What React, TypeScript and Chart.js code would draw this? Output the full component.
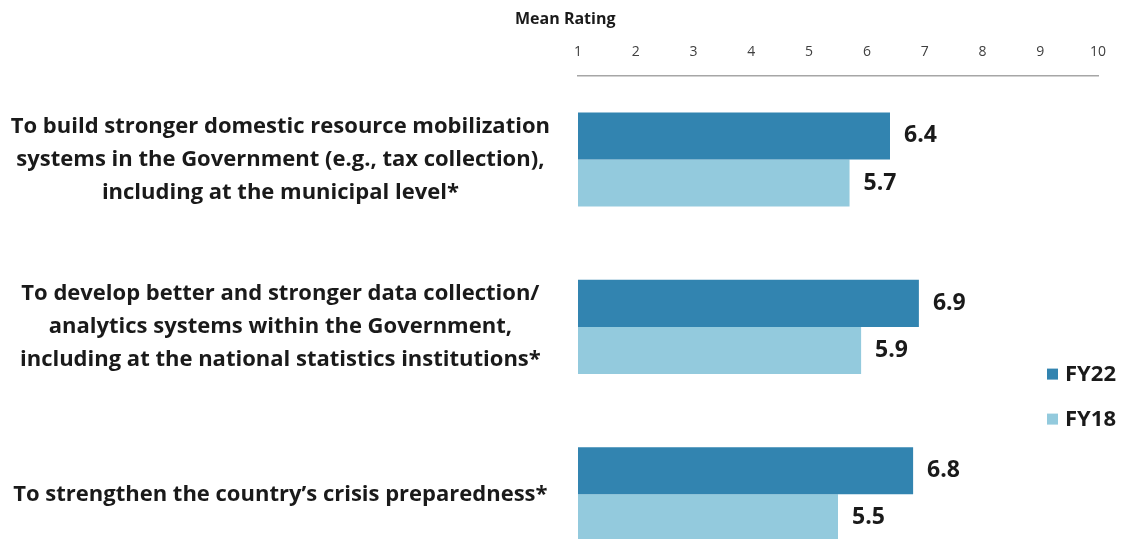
import React, { useEffect, useRef } from "react";
import { Chart, registerables } from "chart.js";

Chart.register(...registerables);

const categories: string[][] = [
  [
    "To build stronger domestic resource mobilization",
    "systems in the Government (e.g., tax collection),",
    "including at the municipal level*",
  ],
  [
    "To develop better and stronger data collection/",
    "analytics systems within the Government,",
    "including at the national statistics institutions*",
  ],
  ["To strengthen the country\u2019s crisis preparedness*"],
];
const seriesLabels = ["FY22", "FY18"];
const fy22Values = [6.4, 6.9, 6.8];
const fy18Values = [5.7, 5.9, 5.5];
const axisMin = 1;
const axisMax = 10;
const axisTitle = "Mean Rating";

const COLOR_FY22 = "#3284B0";
const COLOR_FY18 = "#93CADD";
const FONT = "'Open Sans', Lato, sans-serif";
const TEXT = "#1a1a1a";

const extrasPlugin = {
  id: "extras",
  afterDatasetsDraw(chart: any) {
    const ctx = chart.ctx;
    const area = chart.chartArea;
    ctx.save();
    // data labels
    ctx.font = `bold 23px ${FONT}`;
    ctx.fillStyle = TEXT;
    ctx.textAlign = "left";
    ctx.textBaseline = "middle";
    chart.data.datasets.forEach((ds: any, di: number) => {
      const meta = chart.getDatasetMeta(di);
      meta.data.forEach((el: any, i: number) => {
        ctx.fillText(Number(ds.data[i]).toFixed(1), el.x + 14, el.y);
      });
    });
    // axis title
    ctx.font = `bold 16px ${FONT}`;
    ctx.fillStyle = TEXT;
    ctx.textAlign = "left";
    ctx.textBaseline = "middle";
    ctx.fillText(axisTitle, area.left - 63, 19);
    // legend
    const yScale = chart.scales.y;
    const mid = (yScale.getPixelForValue(1) + yScale.getPixelForValue(2)) / 2;
    const lx = area.right - 51;
    chart.data.datasets.forEach((ds: any, di: number) => {
      const cy = mid - 37 + di * 45;
      ctx.fillStyle = ds.backgroundColor;
      ctx.fillRect(lx, cy - 5, 11, 11);
      ctx.fillStyle = TEXT;
      ctx.font = `bold 22px ${FONT}`;
      ctx.fillText(ds.label, lx + 18, cy + 1);
    });
    ctx.restore();
  },
};

export default function App() {
  const ref = useRef<HTMLCanvasElement | null>(null);
  useEffect(() => {
    if (!ref.current) return;
    const chart = new Chart(ref.current, {
      type: "bar",
      data: {
        labels: categories,
        datasets: [
          {
            label: seriesLabels[0],
            data: fy22Values,
            backgroundColor: COLOR_FY22,
            base: axisMin,
            categoryPercentage: 0.563,
            barPercentage: 1.0,
          } as any,
          {
            label: seriesLabels[1],
            data: fy18Values,
            backgroundColor: COLOR_FY18,
            base: axisMin,
            categoryPercentage: 0.563,
            barPercentage: 1.0,
          } as any,
        ],
      },
      options: {
        indexAxis: "y",
        responsive: false,
        animation: false,
        layout: { padding: { top: 29, right: 27, left: 0, bottom: 0 } },
        plugins: {
          legend: { display: false },
          tooltip: { enabled: false },
          title: { display: false },
        },
        scales: {
          x: {
            position: "top",
            min: axisMin,
            max: axisMax,
            grid: { display: false, drawTicks: false },
            border: { display: true, color: "#A6A6A6", width: 1.5 },
            ticks: {
              stepSize: 1,
              padding: 15,
              color: "#404040",
              font: { family: FONT, size: 14 },
              maxRotation: 0,
            },
            afterFit: (scale: any) => {
              scale.paddingLeft = 0;
              scale.paddingRight = 0;
            },
          },
          y: {
            grid: { display: false, drawTicks: false },
            border: { display: false },
            ticks: {
              padding: 28,
              crossAlign: "center",
              color: TEXT,
              font: { family: FONT, size: 22, weight: "bold", lineHeight: 1.5 },
            },
            afterFit: (scale: any) => {
              scale.width = 578;
              scale.paddingTop = 0;
              scale.paddingBottom = 0;
            },
          },
        },
      },
      plugins: [extrasPlugin],
    });
    return () => chart.destroy();
  }, []);

  return (
    <div
      style={{
        position: "fixed",
        left: 0,
        top: 0,
        width: 1125,
        height: 539,
        overflow: "hidden",
        background: "#fff",
      }}
    >
      <canvas ref={ref} width={1125} height={578} style={{ display: "block" }} />
    </div>
  );
}
